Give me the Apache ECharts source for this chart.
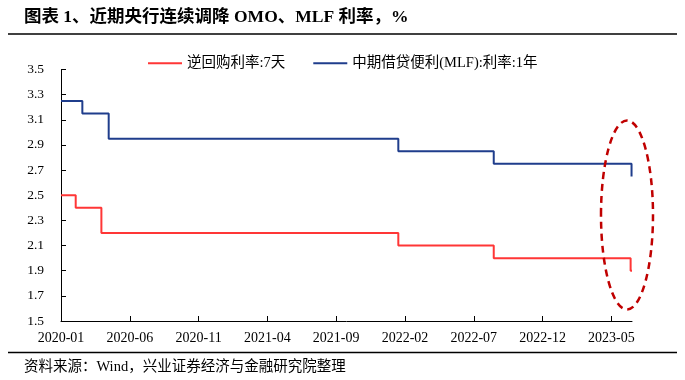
<!DOCTYPE html>
<html>
<head>
<meta charset="utf-8">
<script src="https://cdn.jsdelivr.net/npm/echarts@6/dist/echarts.min.js"></script>
<style>html,body{margin:0;padding:0;background:#fff}#c{width:685px;height:380px}</style>
</head>
<body>
<div id="c"></div>
<script>
// ---- data ----
var omoName = '逆回购利率:7天';
var mlfName = '中期借贷便利(MLF):利率:1年';
var omoDates = ['2020-01-01','2020-02-03','2020-03-30','2022-01-17','2022-08-15','2023-06-13','2023-06-16'];
var omoValues = [2.50, 2.40, 2.20, 2.10, 2.00, 1.90, 1.90];
var mlfDates = ['2020-01-01','2020-02-17','2020-04-15','2022-01-17','2022-08-15','2023-06-15','2023-06-16'];
var mlfValues = [3.25, 3.15, 2.95, 2.85, 2.75, 2.65, 2.65];
var xTickLabels = ['2020-01','2020-06','2020-11','2021-04','2021-09','2022-02','2022-07','2022-12','2023-05'];
var yTicks = [1.5,1.7,1.9,2.1,2.3,2.5,2.7,2.9,3.1,3.3,3.5];

var BASE_Y = 2020, BASE_M = 1;
function monthIndex(s){
  var p = s.split('-').map(Number);
  var dim = new Date(p[0], p[1], 0).getDate();
  return (p[0]-BASE_Y)*12 + (p[1]-BASE_M) + (p[2]-1)/dim;
}
function labelToIndex(s){ return monthIndex(s + '-01'); }
function indexToLabel(v){
  var m = Math.round(v);
  var y = BASE_Y + Math.floor((BASE_M-1+m)/12);
  var mm = ((BASE_M-1+m)%12)+1;
  return y + '-' + (mm<10?'0':'') + mm;
}
var omoData = omoDates.map(function(d,i){return [monthIndex(d), omoValues[i]];});
var mlfData = mlfDates.map(function(d,i){return [monthIndex(d), mlfValues[i]];});
var xTickVals = xTickLabels.map(labelToIndex);
var xMax = Math.max(monthIndex(omoDates[omoDates.length-1]), monthIndex(mlfDates[mlfDates.length-1]));

var FONT = '"Liberation Serif", "Noto Sans CJK SC", serif';
var chart = echarts.init(document.getElementById('c'), null, {renderer:'canvas'});
chart.setOption({
  animation: false,
  backgroundColor: '#fff',
  textStyle: {fontFamily: FONT},
  title: [{
    text: '图表 1、近期央行连续调降 OMO、MLF 利率，%',
    left: 19, top: 4,
    textStyle: {fontFamily: FONT, fontSize: 17.5, fontWeight: 'bold', color: '#000'}
  },{
    text: '资料来源：Wind，兴业证券经济与金融研究院整理',
    left: 19, top: 355,
    textStyle: {fontFamily: FONT, fontSize: 14.5, fontWeight: 'normal', color: '#000'}
  }],
  legend: {
    left: 143, top: 51,
    itemWidth: 34, itemHeight: 2, itemGap: 28,
    icon: 'rect',
    textStyle: {fontFamily: FONT, fontSize: 14.5, color: '#000'},
    data: [omoName, mlfName]
  },
  grid: {left: 61, right: 53, top: 69.5, bottom: 59, containLabel: false},
  xAxis: {
    type: 'value', min: 0, max: xMax, interval: 5,
    axisLine: {show: true, lineStyle: {color: '#000', width: 1}},
    axisTick: {show: true, inside: true, length: 5, lineStyle: {color: '#000'}, customValues: xTickVals},
    axisLabel: {color: '#000', fontSize: 14, fontFamily: FONT, margin: 10, customValues: xTickVals,
      formatter: function(v){ return indexToLabel(v); }},
    splitLine: {show: false}
  },
  yAxis: {
    type: 'value', min: 1.5, max: 3.5, interval: 0.2,
    axisLine: {show: true, lineStyle: {color: '#000', width: 1}},
    axisTick: {show: true, inside: true, length: 5, lineStyle: {color: '#000'}},
    axisLabel: {color: '#000', fontSize: 13.5, fontFamily: FONT, margin: 17,
      formatter: function(v){ return v.toFixed(1); }},
    splitLine: {show: false}
  },
  series: [{
    name: omoName, type: 'line', step: 'end', data: omoData,
    showSymbol: false, symbol: 'none',
    lineStyle: {color: '#ff3636', width: 2}, itemStyle: {color: '#ff3636'}
  },{
    name: mlfName, type: 'line', step: 'end', data: mlfData,
    showSymbol: false, symbol: 'none',
    lineStyle: {color: '#1f3d8c', width: 2}, itemStyle: {color: '#1f3d8c'}
  }],
  graphic: [
    {type: 'line', shape: {x1: 8, y1: 34, x2: 677, y2: 34}, style: {stroke: '#000', lineWidth: 1.5}},
    {type: 'line', shape: {x1: 8, y1: 352.5, x2: 677, y2: 352.5}, style: {stroke: '#000', lineWidth: 1.5}},
    {type: 'ellipse', shape: {cx: 627, cy: 215, rx: 26, ry: 94.5},
     style: {fill: 'none', stroke: '#c00000', lineWidth: 2.5, lineDash: [7, 5]}, z: 100}
  ]
});
</script>
</body>
</html>
